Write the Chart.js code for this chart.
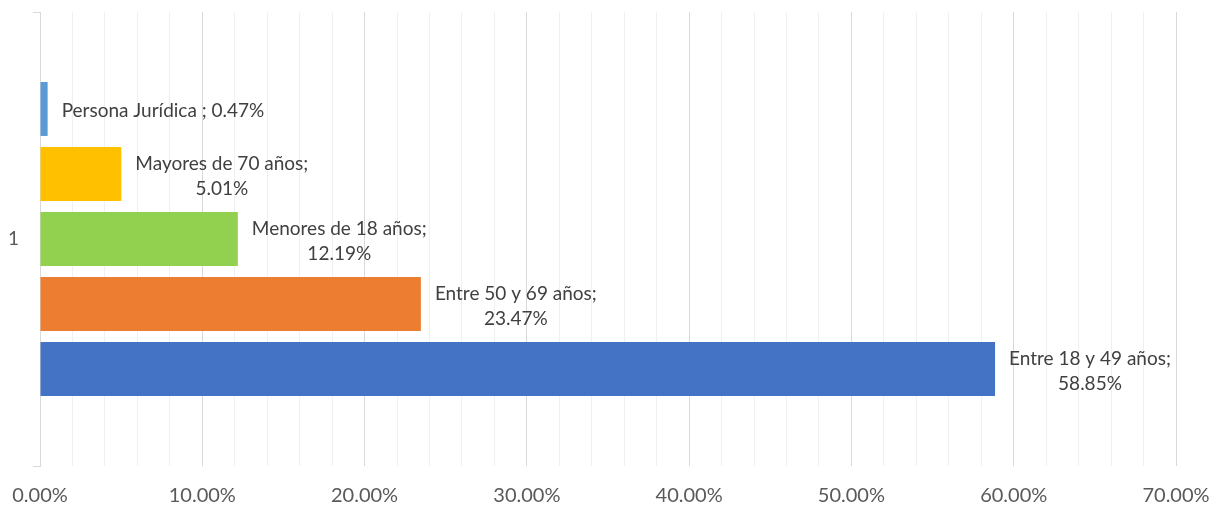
<!DOCTYPE html>
<html>
<head>
<meta charset="utf-8">
<script src="https://cdn.jsdelivr.net/npm/chart.js@4/dist/chart.umd.min.js"></script>
<style>
  html, body { margin: 0; padding: 0; background: #fff; }
  #wrap { width: 1214px; height: 506px; position: relative; }
</style>
</head>
<body>
<div id="wrap"><canvas id="myChart"></canvas></div>
<script>
// data, top bar first
const categories = ['1'];
const seriesNames = ['Persona Jurídica ', 'Mayores de 70 años', 'Menores de 18 años', 'Entre 50 y 69 años', 'Entre 18 y 49 años'];
const seriesValues = [0.47, 5.01, 12.19, 23.47, 58.85];
const seriesColors = ['#5B9BD5', '#FFC000', '#92D050', '#ED7D31', '#4472C4'];
const singleLine = [true, false, false, false, false];

const FONT = 'Lato, "Noto Sans", sans-serif';

let labelPlugin = {
  id: 'barLabels',
  afterDatasetsDraw: (chart) => {
    let ctx = chart.ctx;
    ctx.save();
    ctx.font = '19px ' + FONT;
    ctx.fillStyle = '#404040';
    ctx.textAlign = 'center';
    ctx.textBaseline = 'middle';
    chart.data.datasets.forEach((ds, i) => {
      let bar = chart.getDatasetMeta(i).data[0];
      let val = ds.data[0].toFixed(2) + '%';
      let lines = singleLine[i] ? [ds.label + '; ' + val] : [ds.label + ';', val];
      let w = Math.max(...lines.map(l => ctx.measureText(l).width));
      let cx = bar.x + 14 + w / 2;
      let lh = 25;
      let y0 = bar.y + 2 - (lines.length - 1) * lh / 2;
      lines.forEach((l, k) => ctx.fillText(l, cx, y0 + k * lh));
    });
    ctx.restore();
  }
};

let ctx = document.getElementById('myChart').getContext('2d');
let chart = new Chart(ctx, {
  type: 'bar',
  data: {
    labels: categories,
    datasets: seriesNames.map((n, i) => ({
      label: n,
      data: [seriesValues[i]],
      backgroundColor: seriesColors[i],
      borderWidth: 0,
      categoryPercentage: 0.716,
      barPercentage: 0.83,
    }))
  },
  options: {
    indexAxis: 'y',
    responsive: true,
    maintainAspectRatio: false,
    animation: false,
    layout: { padding: { top: 12, right: 38, left: 0, bottom: 0 } },
    plugins: { legend: { display: false }, tooltip: { enabled: false } },
    scales: {
      x: {
        min: 0,
        max: 70,
        afterFit: (s) => { s.height = 40; s.paddingLeft = 0; s.paddingRight = 0; },
        ticks: {
          stepSize: 2,
          autoSkip: false,
          maxRotation: 0,
          padding: 18,
          color: '#595959',
          font: { family: FONT, size: 20 },
          callback: (v) => (v % 10 === 0 ? v.toFixed(2) + '%' : ''),
        },
        grid: {
          color: (c) => (c.tick && c.tick.value % 10 === 0 ? '#d9d9d9' : '#f0f0f0'),
          lineWidth: 1,
          tickLength: 0,
        },
        border: { display: false },
      },
      y: {
        afterFit: (s) => { s.width = 40; s.paddingTop = 0; s.paddingBottom = 0; },
        ticks: {
          padding: 14,
          color: '#595959',
          font: { family: FONT, size: 19 },
        },
        grid: { drawOnChartArea: false, tickLength: 7, color: '#d9d9d9' },
        border: { display: true, color: '#d9d9d9', width: 1 },
      }
    }
  },
  plugins: [labelPlugin]
});
</script>
</body>
</html>
